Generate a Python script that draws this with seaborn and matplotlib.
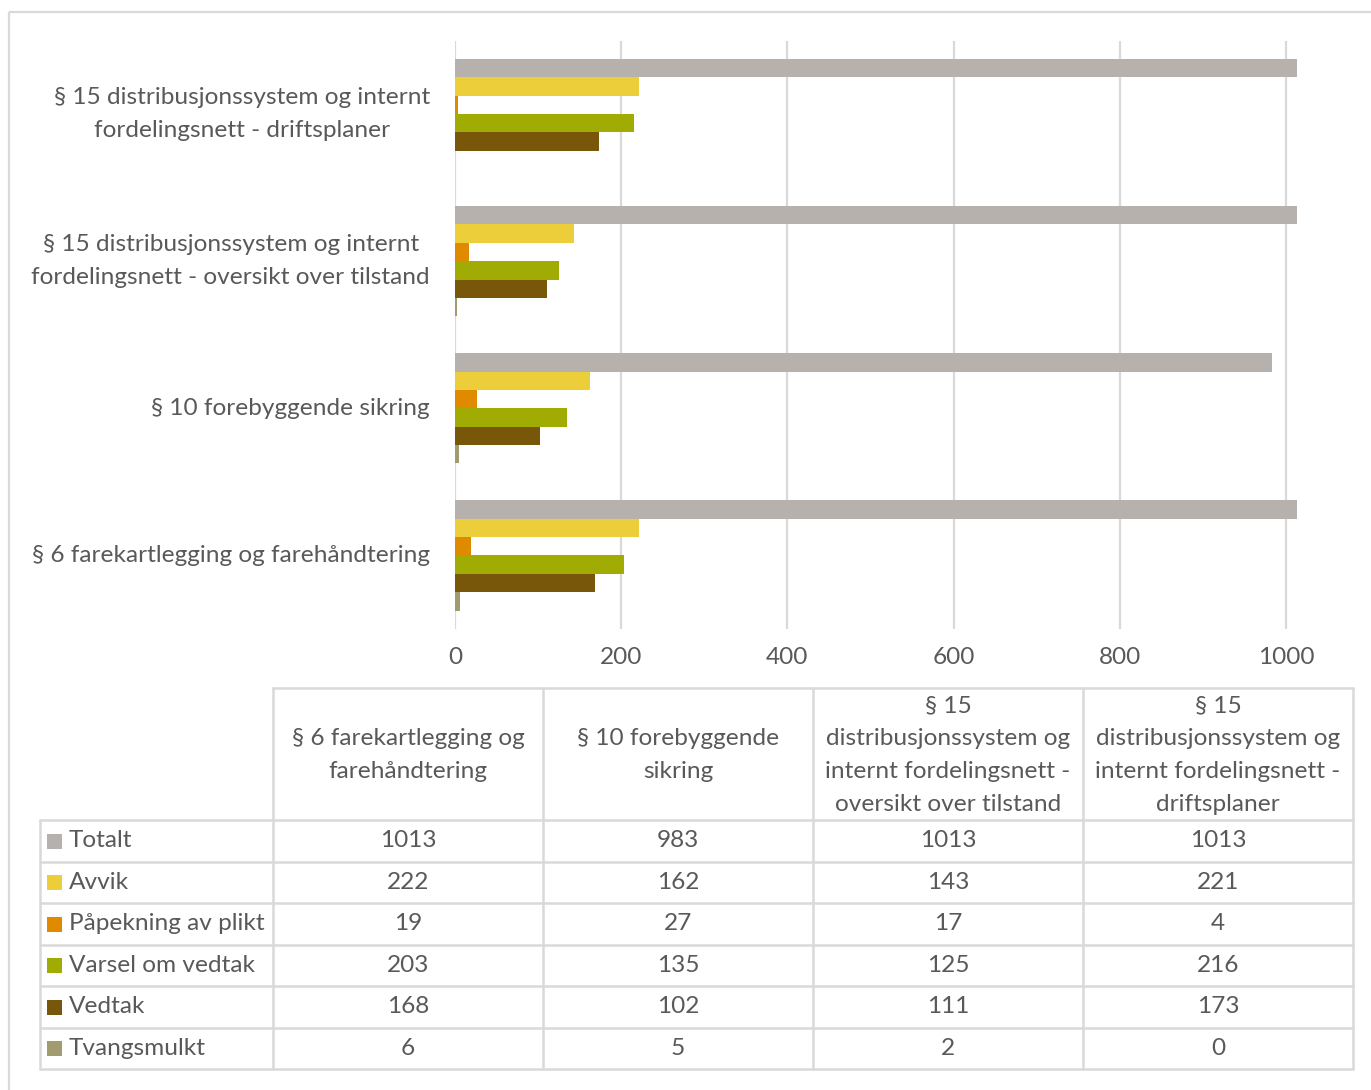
import matplotlib
matplotlib.use("Agg")
import matplotlib.pyplot as plt
from matplotlib.patches import Rectangle
import pandas as pd
import seaborn as sns

# Categories (top to bottom in the bar chart) and series
categories = [
    "§ 15 distribusjonssystem og internt\nfordelingsnett - driftsplaner",
    "§ 15 distribusjonssystem og internt\nfordelingsnett - oversikt over tilstand",
    "§ 10 forebyggende sikring",
    "§ 6 farekartlegging og farehåndtering",
]
series = ["Totalt", "Avvik", "Påpekning av plikt", "Varsel om vedtak", "Vedtak", "Tvangsmulkt"]
colors = ["#b6b1ad", "#ecce3b", "#e08a00", "#a0ac03", "#78560a", "#a09c70"]

totalt = [1013, 1013, 983, 1013]
avvik = [221, 143, 162, 222]
papekning = [4, 17, 27, 19]
varsel = [216, 125, 135, 203]
vedtak = [173, 111, 102, 168]
tvangsmulkt = [0, 2, 5, 6]

# Table column headers (left to right)
table_headers = [
    "§ 6 farekartlegging og\nfarehåndtering",
    "§ 10 forebyggende\nsikring",
    "§ 15\ndistribusjonssystem og\ninternt fordelingsnett -\noversikt over tilstand",
    "§ 15\ndistribusjonssystem og\ninternt fordelingsnett -\ndriftsplaner",
]
xticks = [0, 200, 400, 600, 800, 1000]

values = [totalt, avvik, papekning, varsel, vedtak, tvangsmulkt]
rows = []
for s, vals in zip(series, values):
    for c, v in zip(categories, vals):
        rows.append({"Kategori": c, "Type": s, "Antall": v})
df = pd.DataFrame(rows)

sns.set_theme(style="white")
plt.rcParams["font.family"] = ["Lato", "DejaVu Sans"]
TXT = "#595959"
GRID = "#d9d9d9"
FS = 17.6

W, H = 1371, 1090
fig = plt.figure(figsize=(W / 100, H / 100), dpi=100)

# Bar chart
top_px, bot_px = 40.5, 629
ax = fig.add_axes([455 / W, 1 - bot_px / H, (1330 - 455) / W, (bot_px - top_px) / H])
sns.barplot(data=df, y="Kategori", x="Antall", hue="Type", order=categories,
            hue_order=series, palette=colors, orient="h", width=0.75,
            saturation=1, legend=False, ax=ax, linewidth=0)
ax.set_xlim(0, (1330 - 455) / 0.831)
ax.set_ylim(3.5, -0.5)
ax.set_xticks(xticks)
ax.set_xticklabels([str(t) for t in xticks], fontsize=FS, color=TXT)
ax.tick_params(axis="x", length=0, pad=13)
ax.tick_params(axis="y", length=0, pad=18)
for lab in ax.get_yticklabels():
    lab.set_fontsize(FS)
    lab.set_color(TXT)
    lab.set_multialignment("center")
    lab.set_linespacing(1.68)
    lab.set_verticalalignment("center")
ax.set_xlabel("")
ax.set_ylabel("")
ax.grid(axis="x", color=GRID, linewidth=1.6)
ax.grid(axis="y", visible=False)
ax.set_axisbelow(True)
for sp in ax.spines.values():
    sp.set_visible(False)

# Data table drawn in pixel coordinates
tx = fig.add_axes([0, 0, 1, 1], zorder=-1)
tx.set_xlim(0, W)
tx.set_ylim(H, 0)
tx.axis("off")

# outer frame
tx.add_patch(Rectangle((9, 12), W + 20, H + 20, fill=False, edgecolor=GRID, linewidth=1.6))

col_x = [40, 273, 543, 813, 1083, 1353]
head_top, head_bot = 688, 820
row_h = (1069 - 820) / 6
row_y = [head_bot + i * row_h for i in range(7)]
lw = 1.8

# header cell borders
tx.plot([col_x[1], col_x[-1]], [head_top, head_top], color=GRID, lw=lw)
for x in col_x[1:]:
    tx.plot([x, x], [head_top, row_y[-1]], color=GRID, lw=lw)
for y in row_y:
    tx.plot([col_x[0], col_x[-1]], [y, y], color=GRID, lw=lw)
tx.plot([col_x[0], col_x[0]], [row_y[0], row_y[-1]], color=GRID, lw=lw)

for j, h in enumerate(table_headers):
    cx = (col_x[j + 1] + col_x[j + 2]) / 2
    tx.text(cx, (head_top + head_bot) / 2 + 1, h, ha="center", va="center",
            fontsize=FS, color=TXT, linespacing=1.7, multialignment="center")

for i, (s, vals, c) in enumerate(zip(series, values, colors)):
    cy = (row_y[i] + row_y[i + 1]) / 2
    tx.add_patch(Rectangle((47, cy - 7), 15, 15, facecolor=c, edgecolor="none"))
    tx.text(69, cy, s, ha="left", va="center", fontsize=FS, color=TXT)
    # table column order: §6, §10, §15 oversikt, §15 driftsplaner
    for j, v in enumerate(vals[::-1]):
        cx = (col_x[j + 1] + col_x[j + 2]) / 2
        tx.text(cx, cy, str(v), ha="center", va="center", fontsize=FS, color=TXT)

fig.savefig("out.png", dpi=100)
